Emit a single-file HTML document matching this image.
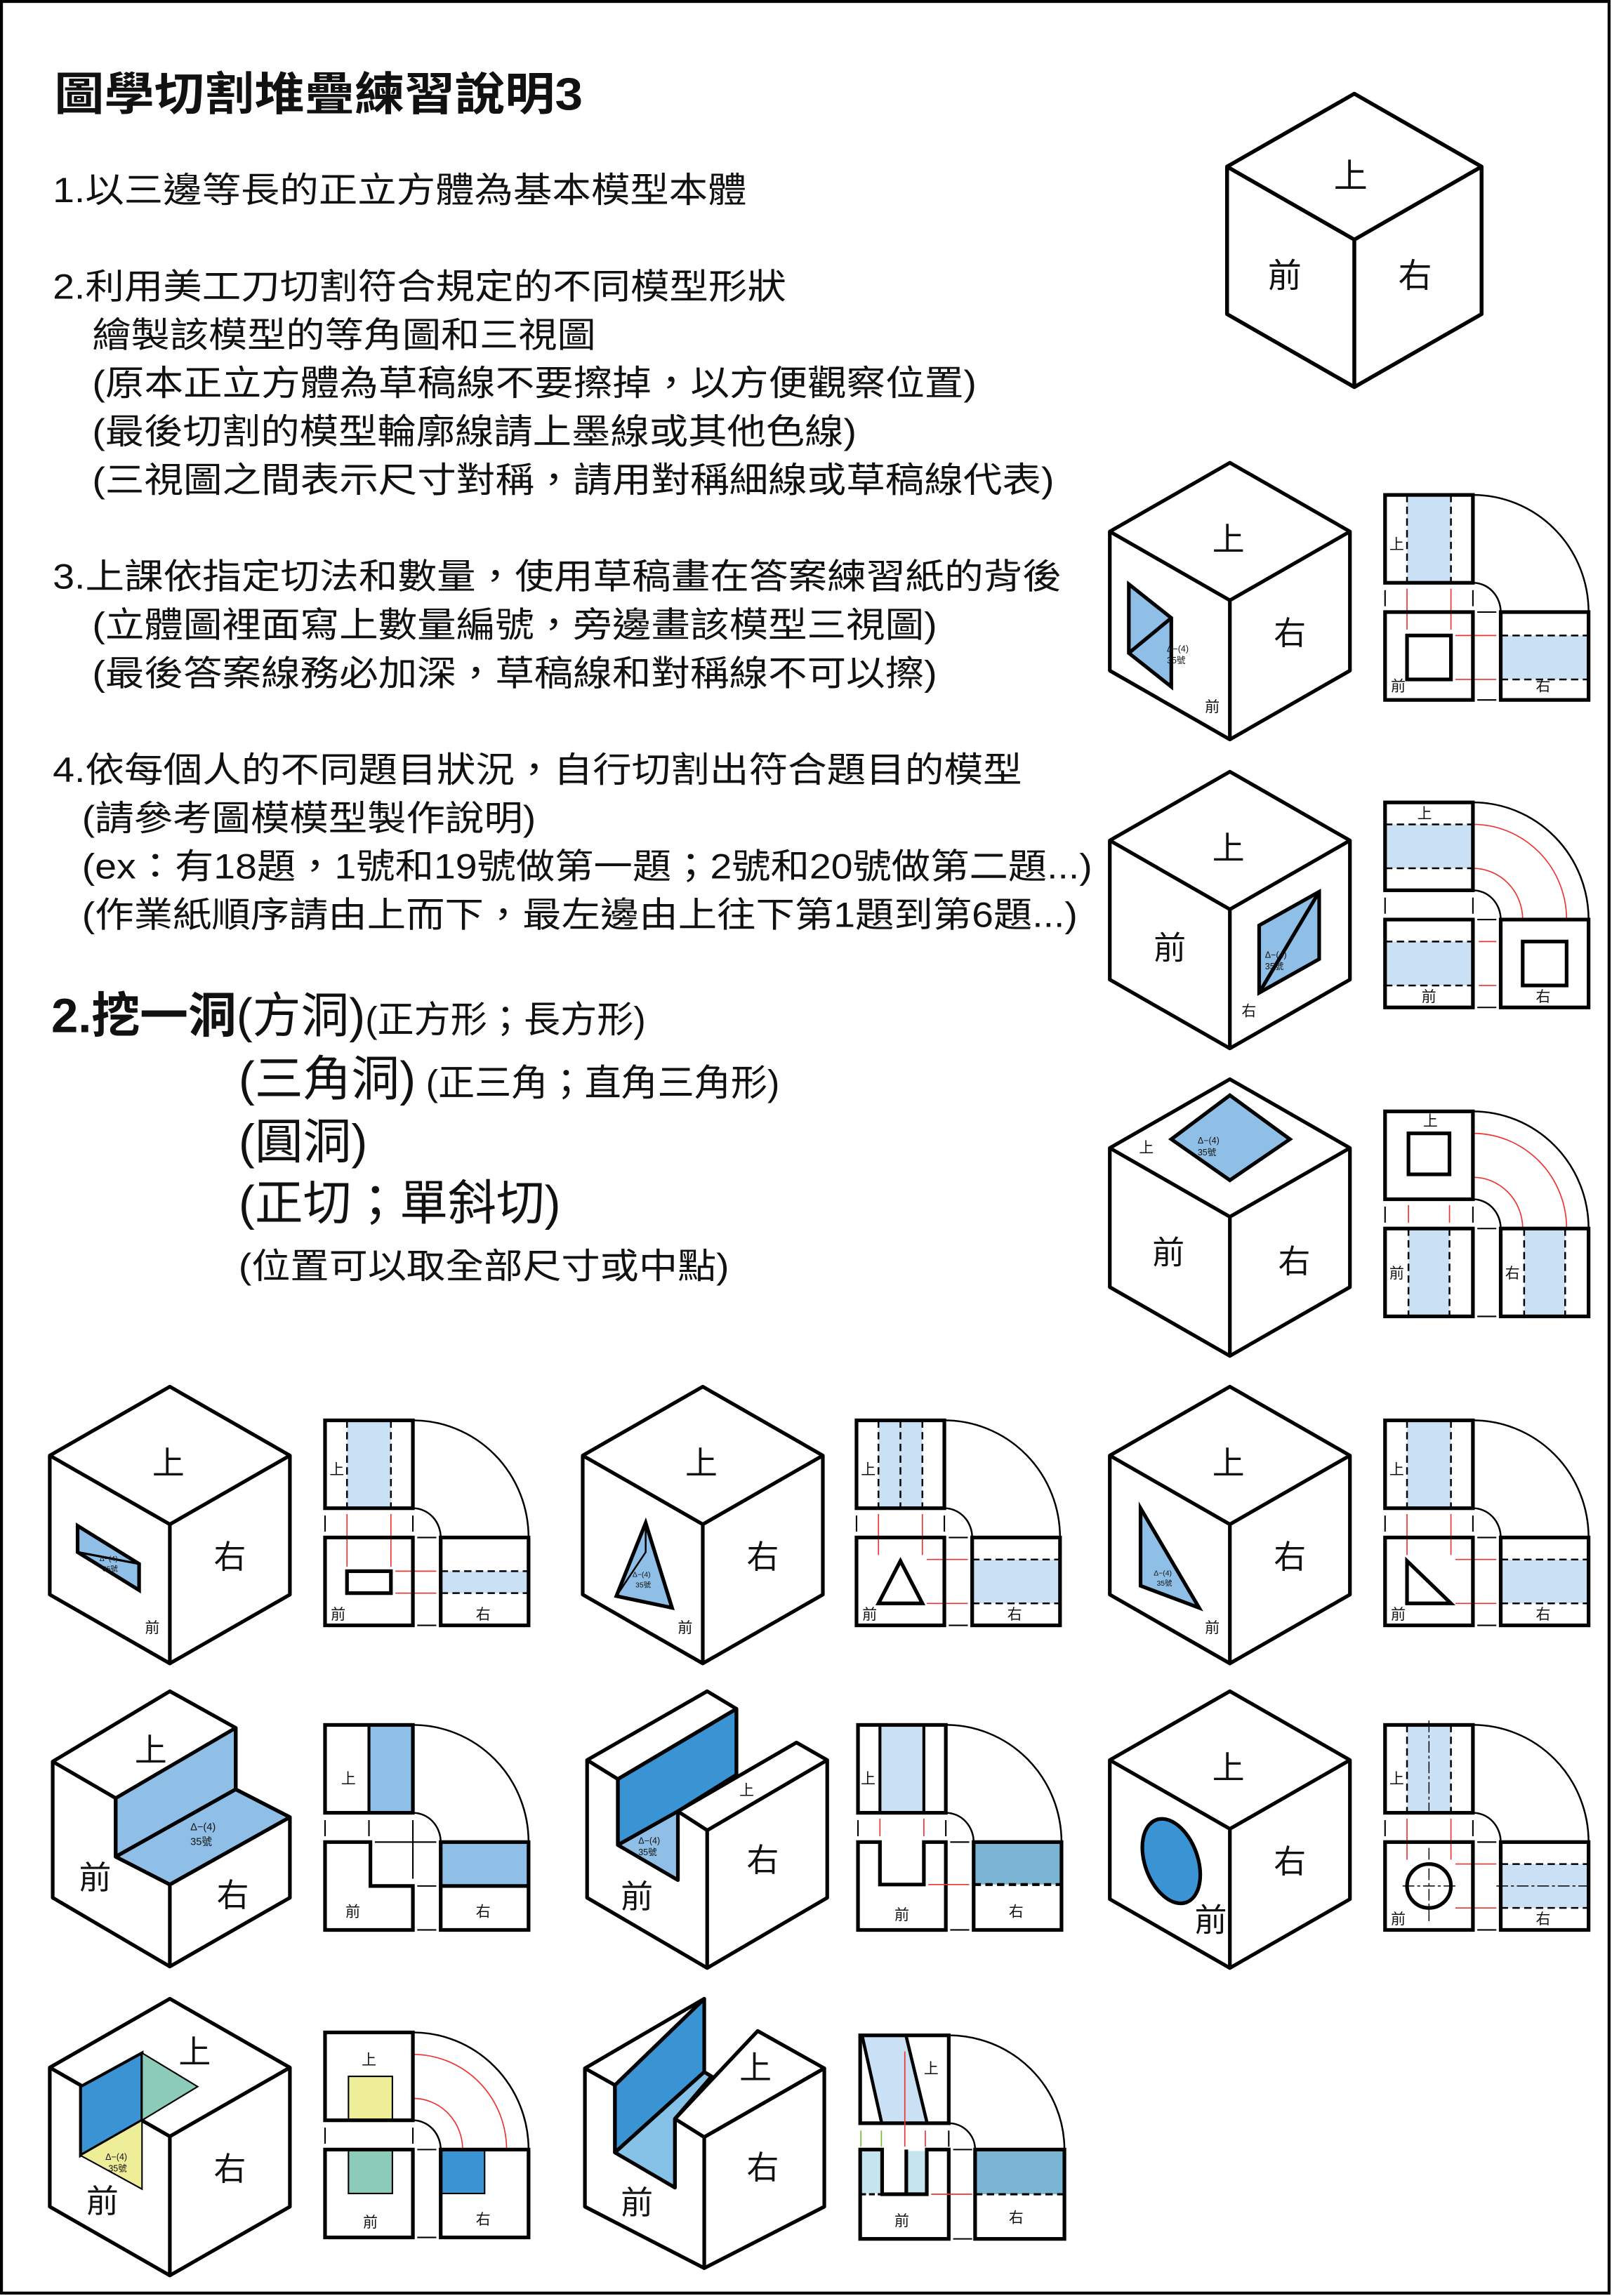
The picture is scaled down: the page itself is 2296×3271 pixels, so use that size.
<!DOCTYPE html>
<html><head><meta charset="utf-8"><style>
html,body{margin:0;padding:0;background:#fff;}
svg{display:block;}
text{font-family:"Liberation Sans","Noto Sans CJK TC","Noto Sans CJK SC",sans-serif;fill:#111;}
</style></head><body>
<svg width="2296" height="3271" viewBox="0 0 1101 1568" preserveAspectRatio="none" xmlns="http://www.w3.org/2000/svg">
<defs>
<g id="cb" fill="none" stroke="#000" stroke-width="2.5" stroke-linejoin="round">
<path d="M0,0 L82,47 L82,142 L0,189 L-82,142 L-82,47 Z M-82,47 L0,94 L82,47 M0,94 L0,189"/>
</g>
<g id="vw" fill="none" stroke="#000">
<rect x="0" y="0" width="60" height="60" stroke-width="2.5"/>
<rect x="0" y="80" width="60" height="60" stroke-width="2.5"/>
<rect x="79" y="80" width="60" height="60" stroke-width="2.5"/>
<path d="M60,0 A79,80 0 0 1 139,80" stroke-width="1.2"/>
<path d="M60,60 A19,20 0 0 1 79,80" stroke-width="1.2"/>
<path d="M0,65 V76 M60,65 V76 M63,80 H76 M63,140 H76" stroke-width="1"/>
</g>
</defs>
<rect x="1" y="1" width="1098" height="1565" fill="none" stroke="#000" stroke-width="2"/>

<!-- text -->
<text x="37" y="75" font-size="31" font-weight="bold" textLength="361" lengthAdjust="spacingAndGlyphs">圖學切割堆疊練習說明3</text>
<g font-size="24">
<text x="36" y="138" textLength="474" lengthAdjust="spacingAndGlyphs">1.以三邊等長的正立方體為基本模型本體</text>
<text x="36" y="204" textLength="501" lengthAdjust="spacingAndGlyphs">2.利用美工刀切割符合規定的不同模型形狀</text>
<text x="63" y="237" textLength="344" lengthAdjust="spacingAndGlyphs">繪製該模型的等角圖和三視圖</text>
<text x="63" y="270" textLength="604" lengthAdjust="spacingAndGlyphs">(原本正立方體為草稿線不要擦掉，以方便觀察位置)</text>
<text x="63" y="303" textLength="522" lengthAdjust="spacingAndGlyphs">(最後切割的模型輪廓線請上墨線或其他色線)</text>
<text x="63" y="336" textLength="657" lengthAdjust="spacingAndGlyphs">(三視圖之間表示尺寸對稱，請用對稱細線或草稿線代表)</text>
<text x="36" y="402" textLength="689" lengthAdjust="spacingAndGlyphs">3.上課依指定切法和數量，使用草稿畫在答案練習紙的背後</text>
<text x="63" y="435" textLength="577" lengthAdjust="spacingAndGlyphs">(立體圖裡面寫上數量編號，旁邊畫該模型三視圖)</text>
<text x="63" y="468" textLength="577" lengthAdjust="spacingAndGlyphs">(最後答案線務必加深，草稿線和對稱線不可以擦)</text>
<text x="36" y="534" textLength="662" lengthAdjust="spacingAndGlyphs">4.依每個人的不同題目狀況，自行切割出符合題目的模型</text>
<text x="56" y="567" textLength="310" lengthAdjust="spacingAndGlyphs">(請參考圖模模型製作說明)</text>
<text x="56" y="600" textLength="690" lengthAdjust="spacingAndGlyphs">(ex：有18題，1號和19號做第一題；2號和20號做第二題...)</text>
<text x="56" y="633" textLength="680" lengthAdjust="spacingAndGlyphs">(作業紙順序請由上而下，最左邊由上往下第1題到第6題...)</text>
</g>
<text x="35" y="705" font-size="33"><tspan font-weight="bold">2.挖一洞</tspan><tspan>(方洞)</tspan><tspan font-size="25">(正方形；長方形)</tspan></text>
<text x="163" y="748" font-size="33">(三角洞)<tspan font-size="25"> (正三角；直角三角形)</tspan></text>
<text x="163" y="791" font-size="33">(圓洞)</text>
<text x="163" y="833" font-size="33">(正切；單斜切)</text>
<text x="163" y="873" font-size="24" textLength="335" lengthAdjust="spacingAndGlyphs">(位置可以取全部尺寸或中點)</text>

<!-- C0 -->
<g transform="translate(925,64) scale(1.06)"><use href="#cb"/></g>
<g font-size="23"><text x="911" y="128">上</text><text x="866" y="196">前</text><text x="955" y="196">右</text></g>

<!-- C1 -->
<g transform="translate(840,316)">
<path d="M-69,83 L-40,106 L-40,153 L-69,130 Z" fill="#8fbfe6" stroke="#000" stroke-width="2.5"/>
<path d="M-69,130 L-40,106" stroke="#000" stroke-width="2.5"/>
<text x="-43" y="129" font-size="6">Δ−(4)</text><text x="-43" y="137" font-size="6">35號</text>
<use href="#cb"/>
<text x="-12" y="60" font-size="22">上</text><text x="30" y="124" font-size="22">右</text><text x="-17" y="170" font-size="10">前</text>
</g>
<g transform="translate(946,338)">
<rect x="15" y="1" width="30" height="58" fill="#c9e0f5"/>
<rect x="79" y="96" width="60" height="30" fill="#c9e0f5"/>
<path d="M15,0 V60 M45,0 V60 M79,96 H139 M79,126 H139" stroke="#000" stroke-width="1.2" stroke-dasharray="5,3"/>
<path d="M15,64 V92 M45,64 V92 M48,96 H76 M48,126 H76" stroke="#e33" stroke-width="0.8"/>
<rect x="15" y="96" width="30" height="30" fill="none" stroke="#000" stroke-width="2.5"/>
<use href="#vw"/>
<text x="3" y="37" font-size="10">上</text><text x="4" y="134" font-size="10">前</text><text x="103" y="134" font-size="10">右</text>
</g>

<!-- C2 -->
<g transform="translate(840,527)">
<path d="M20,105 L61,82 L61,128 L20,151 Z" fill="#8fbfe6" stroke="#000" stroke-width="2.5"/>
<path d="M20,151 L61,82" stroke="#000" stroke-width="2.5"/>
<text x="24" y="127" font-size="6">Δ−(4)</text><text x="24" y="135" font-size="6">35號</text>
<use href="#cb"/>
<text x="-12" y="60" font-size="22">上</text><text x="-52" y="128" font-size="22">前</text><text x="8" y="167" font-size="10">右</text>
</g>
<g transform="translate(946,548)">
<rect x="1" y="15" width="58" height="30" fill="#c9e0f5"/>
<rect x="1" y="95" width="58" height="30" fill="#c9e0f5"/>
<path d="M0,15 H60 M0,45 H60 M0,95 H60 M0,125 H60" stroke="#000" stroke-width="1.2" stroke-dasharray="5,3"/>
<path d="M60,15 A64,65 0 0 1 124,80 M60,45 A34,35 0 0 1 94,80 M64,95 H76 M64,125 H76" fill="none" stroke="#e33" stroke-width="0.8"/>
<rect x="94" y="95" width="30" height="30" fill="none" stroke="#000" stroke-width="2.5"/>
<use href="#vw"/>
<text x="22" y="11" font-size="10">上</text><text x="25" y="136" font-size="10">前</text><text x="103" y="136" font-size="10">右</text>
</g>

<!-- C3 -->
<g transform="translate(840,737)">
<path d="M-40,41 L0,11 L41,41 L0,69 Z" fill="#8fbfe6" stroke="#000" stroke-width="2.5"/>
<text x="-22" y="44" font-size="6">Δ−(4)</text><text x="-22" y="52" font-size="6">35號</text>
<use href="#cb"/>
<text x="-62" y="50" font-size="10">上</text><text x="-53" y="126" font-size="22">前</text><text x="33" y="132" font-size="22">右</text>
</g>
<g transform="translate(946,759)">
<rect x="16" y="81" width="28" height="58" fill="#c9e0f5"/>
<rect x="95" y="81" width="28" height="58" fill="#c9e0f5"/>
<path d="M16,80 V140 M44,80 V140 M95,80 V140 M123,80 V140" stroke="#000" stroke-width="1.2" stroke-dasharray="5,3"/>
<path d="M60,15 A64,65 0 0 1 124,80 M60,45 A34,35 0 0 1 94,80 M16,64 V76 M44,64 V76" fill="none" stroke="#e33" stroke-width="0.8"/>
<rect x="16" y="15" width="28" height="28" fill="none" stroke="#000" stroke-width="2.5"/>
<use href="#vw"/>
<text x="26" y="10" font-size="10">上</text><text x="3" y="114" font-size="10">前</text><text x="82" y="114" font-size="10">右</text>
</g>

<!-- R4a -->
<g transform="translate(116,947)">
<path d="M-63,95 L-21,121 L-21,139 L-63,113 Z" fill="#8fbfe6" stroke="#000" stroke-width="2.5"/>
<path d="M-63,113 L-21,121" stroke="#000" stroke-width="1.5"/>
<text x="-48" y="119" font-size="5">Δ−(4)</text><text x="-46" y="126" font-size="5">35號</text>
<use href="#cb"/>
<text x="-12" y="60" font-size="22">上</text><text x="30" y="124" font-size="22">右</text><text x="-17" y="168" font-size="10">前</text>
</g>
<g transform="translate(222,970)">
<rect x="15" y="1" width="30" height="58" fill="#c9e0f5"/>
<rect x="79" y="103" width="60" height="15" fill="#c9e0f5"/>
<path d="M15,0 V60 M45,0 V60 M79,103 H139 M79,118 H139" stroke="#000" stroke-width="1.2" stroke-dasharray="5,3"/>
<path d="M15,64 V100 M45,64 V100 M48,103 H76 M48,118 H76" stroke="#e33" stroke-width="0.8"/>
<rect x="15" y="103" width="30" height="15" fill="none" stroke="#000" stroke-width="2.5"/>
<use href="#vw"/>
<text x="3" y="37" font-size="10">上</text><text x="4" y="136" font-size="10">前</text><text x="103" y="136" font-size="10">右</text>
</g>

<!-- R4b -->
<g transform="translate(480,947)">
<path d="M-59,143 L-39,93 L-21,151 Z" fill="#8fbfe6" stroke="#000" stroke-width="2.5"/>
<path d="M-59,143 L-39,113 L-39,93" stroke="#000" stroke-width="1.2" fill="none"/>
<text x="-48" y="130" font-size="5">Δ−(4)</text><text x="-46" y="137" font-size="5">35號</text>
<use href="#cb"/>
<text x="-12" y="60" font-size="22">上</text><text x="30" y="124" font-size="22">右</text><text x="-17" y="168" font-size="10">前</text>
</g>
<g transform="translate(585,970)">
<rect x="15" y="1" width="30" height="58" fill="#c9e0f5"/>
<rect x="79" y="95" width="60" height="30" fill="#c9e0f5"/>
<path d="M15,0 V60 M30,0 V60 M45,0 V60 M79,95 H139 M79,125 H139" stroke="#000" stroke-width="1.2" stroke-dasharray="5,3"/>
<path d="M15,64 V92 M45,64 V92 M48,95 H76 M48,125 H76" stroke="#e33" stroke-width="0.8"/>
<path d="M15,125 L30,96 L45,125 Z" fill="none" stroke="#000" stroke-width="2.5"/>
<use href="#vw"/>
<text x="3" y="37" font-size="10">上</text><text x="4" y="136" font-size="10">前</text><text x="103" y="136" font-size="10">右</text>
</g>

<!-- R4c -->
<g transform="translate(840,947)">
<path d="M-61,83 L-61,136 L-21,151 Z" fill="#8fbfe6" stroke="#000" stroke-width="2.5"/>
<text x="-52" y="129" font-size="5">Δ−(4)</text><text x="-50" y="136" font-size="5">35號</text>
<use href="#cb"/>
<text x="-12" y="60" font-size="22">上</text><text x="30" y="124" font-size="22">右</text><text x="-17" y="168" font-size="10">前</text>
</g>
<g transform="translate(946,970)">
<rect x="15" y="1" width="30" height="58" fill="#c9e0f5"/>
<rect x="79" y="95" width="60" height="30" fill="#c9e0f5"/>
<path d="M15,0 V60 M45,0 V60 M79,95 H139 M79,125 H139" stroke="#000" stroke-width="1.2" stroke-dasharray="5,3"/>
<path d="M15,64 V92 M45,64 V92 M48,95 H76 M48,125 H76" stroke="#e33" stroke-width="0.8"/>
<path d="M15,96 L15,125 L45,125 Z" fill="none" stroke="#000" stroke-width="2.5"/>
<use href="#vw"/>
<text x="3" y="37" font-size="10">上</text><text x="4" y="136" font-size="10">前</text><text x="103" y="136" font-size="10">右</text>
</g>

<!-- R5a step -->
<g stroke="#000" stroke-width="2.5" stroke-linejoin="round">
<path d="M79,1228 L161,1180 L161,1222 L79,1268 Z" fill="#8fbfe6"/>
<path d="M79,1268 L161,1222 L198,1241 L116,1287 Z" fill="#8fbfe6"/>
<path d="M116,1155 L161,1180 L161,1222 L198,1241 L198,1296 L116,1343 L36,1296 L36,1203 Z M36,1203 L79,1228 L79,1268 L116,1287 L198,1241 M116,1287 L116,1343" fill="none"/>
</g>
<text x="92" y="1203" font-size="22">上</text><text x="54" y="1290" font-size="22">前</text><text x="148" y="1302" font-size="22">右</text>
<text x="130" y="1250" font-size="7">Δ−(4)</text><text x="130" y="1260" font-size="7">35號</text>
<g transform="translate(222,1178)">
<rect x="30" y="1" width="30" height="58" fill="#8fbfe6"/>
<rect x="79" y="80" width="60" height="30" fill="#8fbfe6"/>
<rect x="0" y="0" width="60" height="60" fill="none" stroke="#000" stroke-width="2.5"/>
<path d="M30,0 V60" stroke="#000" stroke-width="2"/>
<path d="M0,80 H31 V110 H60 V140 H0 Z" fill="none" stroke="#000" stroke-width="2.5"/>
<rect x="79" y="80" width="60" height="60" fill="none" stroke="#000" stroke-width="2.5"/>
<path d="M79,110 H139" stroke="#000" stroke-width="2.5"/>
<path d="M60,0 A79,80 0 0 1 139,80 M60,60 A19,20 0 0 1 79,80" fill="none" stroke="#000" stroke-width="1.2"/>
<path d="M0,65 V76 M30,65 V76 M60,65 V105 M34,80 H76 M63,110 H76 M63,140 H76" stroke="#000" stroke-width="1"/>
<text x="11" y="40" font-size="10">上</text><text x="14" y="131" font-size="10">前</text><text x="103" y="131" font-size="10">右</text>
</g>

<!-- R5b groove -->
<g stroke="#000" stroke-width="2.5" stroke-linejoin="round">
<path d="M422,1215 L503,1167 L503,1212 L463,1237 L422,1260 Z" fill="#3a93d3"/>
<path d="M422,1260 L463,1237 L463,1284 Z" fill="#8fbfe6"/>
<path d="M483,1155 L503,1167 L422,1215 L401,1202 Z M463,1237 L544,1190 L565,1202 L483,1250 Z M483,1250 L565,1202 L565,1296 L483,1344 Z M401,1202 L401,1296 L483,1344" fill="none"/>
<path d="M422,1215 L422,1260 M503,1167 L503,1212" fill="none"/>
</g>
<text x="505" y="1226" font-size="10">上</text><text x="510" y="1278" font-size="22">右</text><text x="424" y="1303" font-size="22">前</text>
<text x="436" y="1259" font-size="6">Δ−(4)</text><text x="436" y="1267" font-size="6">35號</text>
<g transform="translate(586,1178)">
<rect x="15" y="1" width="30" height="58" fill="#c9e0f5"/>
<rect x="79" y="80" width="60" height="29" fill="#7ab5d3"/>
<rect x="0" y="0" width="60" height="60" fill="none" stroke="#000" stroke-width="2.5"/>
<path d="M15,0 V60 M45,0 V60" stroke="#000" stroke-width="2"/>
<path d="M0,80 H15 V109 H45 V80 H60 V140 H0 Z" fill="none" stroke="#000" stroke-width="2.5"/>
<rect x="79" y="80" width="60" height="60" fill="none" stroke="#000" stroke-width="2.5"/>
<path d="M79,109 H139" stroke="#000" stroke-width="2" stroke-dasharray="5,3"/>
<path d="M48,109 H76 M15,64 V76 M45,64 V76" stroke="#e33" stroke-width="0.8"/>
<path d="M60,0 A79,80 0 0 1 139,80 M60,60 A19,20 0 0 1 79,80" fill="none" stroke="#000" stroke-width="1.2"/>
<path d="M0,65 V76 M60,65 V76 M63,80 H76 M63,140 H76" stroke="#000" stroke-width="1"/>
<text x="2" y="40" font-size="10">上</text><text x="25" y="133" font-size="10">前</text><text x="103" y="131" font-size="10">右</text>
</g>

<!-- R5c -->
<g transform="translate(840,1155)">
<ellipse cx="-40" cy="116" rx="18" ry="30" transform="rotate(-20 -40 116)" fill="#3a93d3" stroke="#000" stroke-width="2.5"/>
<use href="#cb"/>
<text x="-12" y="60" font-size="22">上</text><text x="30" y="124" font-size="22">右</text><text x="-24" y="164" font-size="22">前</text>
</g>
<g transform="translate(946,1178)">
<rect x="15" y="1" width="30" height="58" fill="#c9e0f5"/>
<rect x="79" y="95" width="60" height="30" fill="#c9e0f5"/>
<path d="M15,0 V60 M45,0 V60 M79,95 H139 M79,125 H139" stroke="#000" stroke-width="1.2" stroke-dasharray="5,3"/>
<path d="M30,-3 V63 M30,84 V136 M12,110 H48 M76,110 H142" stroke="#000" stroke-width="0.7" stroke-dasharray="8,2,2,2"/>
<path d="M15,64 V92 M45,64 V92 M48,95 H76 M48,125 H76" stroke="#e33" stroke-width="0.8"/>
<circle cx="30" cy="110" r="15" fill="none" stroke="#000" stroke-width="2.5"/>
<use href="#vw"/>
<text x="3" y="40" font-size="10">上</text><text x="4" y="136" font-size="10">前</text><text x="103" y="136" font-size="10">右</text>
</g>

<!-- R6a corner -->
<g transform="translate(116,1365)">
<use href="#cb"/>
<path d="M-61,60 L-19,37 L-19,83 L-61,107 Z" fill="#3a93d3" stroke="#000" stroke-width="2"/>
<path d="M-19,37 L19,60 L-19,83 Z" fill="#8ccbb8" stroke="#000" stroke-width="1"/>
<path d="M-61,107 L-19,83 L-19,130 Z" fill="#eeee99" stroke="#000" stroke-width="1"/>
<text x="-44" y="110" font-size="6">Δ−(4)</text><text x="-42" y="118" font-size="6">35號</text>
<text x="6" y="44" font-size="22">上</text><text x="30" y="124" font-size="22">右</text><text x="-57" y="146" font-size="22">前</text>
</g>
<g transform="translate(222,1388)">
<rect x="16" y="30" width="30" height="30" fill="#eeee99" stroke="#000" stroke-width="1"/>
<rect x="16" y="80" width="30" height="30" fill="#8ccbb8" stroke="#000" stroke-width="1"/>
<rect x="79" y="80" width="30" height="30" fill="#3a93d3" stroke="#000" stroke-width="1"/>
<path d="M60,15 A64,65 0 0 1 124,80 M60,45 A34,35 0 0 1 94,80" fill="none" stroke="#e33" stroke-width="0.8"/>
<use href="#vw"/>
<text x="25" y="22" font-size="10">上</text><text x="26" y="133" font-size="10">前</text><text x="103" y="131" font-size="10">右</text>
</g>

<!-- R6b slanted groove -->
<g stroke="#000" stroke-width="2.5" stroke-linejoin="round">
<path d="M420,1424 L481,1365 L481,1415 L420,1470 Z" fill="#3a93d3"/>
<path d="M420,1470 L481,1415 L486,1418 L461,1447 L461,1494 Z" fill="#86c1e8"/>
<path d="M399.5,1412.5 L481,1365 L420,1424 Z" fill="#fff"/>
<path d="M461,1447 L517.5,1387 L563,1412.5 L481,1459.5 Z" fill="#fff"/>
<path d="M481,1459.5 L563,1412.5 L563,1507 L481,1549 Z" fill="#fff"/>
<path d="M399.5,1412.5 L399.5,1507 L481,1549 M420,1424 L420,1470 M461,1447 L461,1494" fill="none"/>
</g>
<text x="505" y="1420" font-size="22">上</text><text x="510" y="1488" font-size="22">右</text><text x="424" y="1512" font-size="22">前</text>
<g>
<path d="M589,1391 L619,1391 L633,1449 L602,1449 Z" fill="#c9e0f5"/>
<path d="M589,1391 L602,1449 M619,1391 L633,1449" stroke="#000" stroke-width="2.2" fill="none"/>
<rect x="587.5" y="1390" width="60.5" height="60" fill="none" stroke="#000" stroke-width="2.5"/>
<path d="M618,1401 V1466 M632,1455 V1466" stroke="#e33" stroke-width="0.8"/>
<path d="M588,1455 V1466 M602,1455 V1466" stroke="#7b3" stroke-width="0.8"/>
<path d="M648,1455 V1466 M651,1468 H664 M651,1529 H664" stroke="#000" stroke-width="1"/>
<rect x="588" y="1469" width="14" height="29" fill="#c5e5ee"/>
<rect x="619" y="1469" width="14" height="29" fill="#c5e5ee"/>
<path d="M587.5,1468 H602.5 V1498.5 H633 V1468 H648 V1529 H587.5 Z M619,1468 V1498.5" fill="none" stroke="#000" stroke-width="2.5"/>
<path d="M587.5,1498.5 H602" stroke="#000" stroke-width="1.5" stroke-dasharray="4,2"/>
<path d="M636,1498.5 H664" stroke="#e33" stroke-width="0.8"/>
<rect x="666" y="1468" width="61" height="30.5" fill="#7ab5d3"/>
<rect x="666" y="1468" width="61" height="61" fill="none" stroke="#000" stroke-width="2.5"/>
<path d="M666,1498.5 H727" stroke="#000" stroke-width="1.5" stroke-dasharray="5,3"/>
<path d="M648,1390 A79,78 0 0 1 727,1468 M648,1450 A18,18 0 0 1 666,1468" fill="none" stroke="#000" stroke-width="1.2"/>
<text x="631" y="1416" font-size="10">上</text><text x="611" y="1520" font-size="10">前</text><text x="689" y="1518" font-size="10">右</text>
</g>
</svg>
</body></html>
